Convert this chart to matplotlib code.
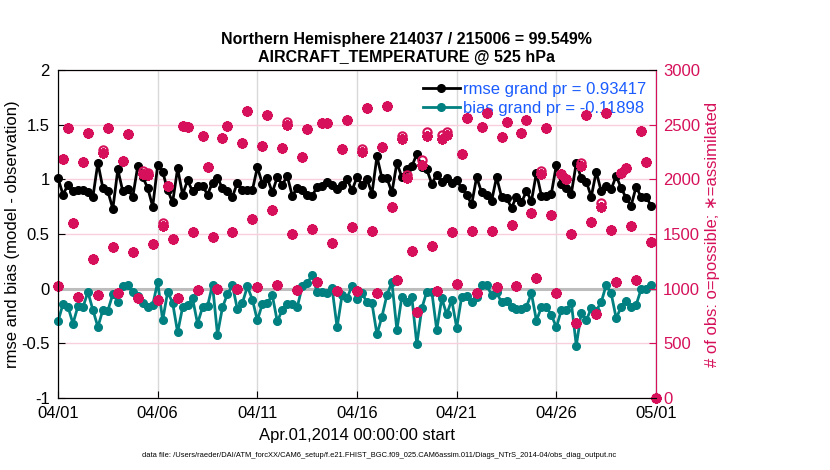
import matplotlib
matplotlib.use("Agg")
import matplotlib.pyplot as plt
import matplotlib.dates as mdates
import pandas as pd

plt.rcParams["font.family"] = ["Liberation Sans", "DejaVu Sans"]

# 6-hourly bins, Apr 01 2014 00Z onwards
start = "2014-04-01 00:00"
n_bins = 121

rmse = [1.01, 0.86, 0.95, 0.89, 0.90, 0.90, 0.88, 0.84, 1.15, 0.92,
        0.89, 0.73, 1.09, 0.89, 0.91, 0.84, 1.12, 1.02, 0.92, 0.75,
        1.13, 1.07, 0.90, 0.79, 1.10, 0.86, 0.99, 0.89, 0.94, 0.94,
        0.86, 0.97, 1.01, 0.92, 0.89, 0.84, 0.97, 0.90, 0.90, 0.90,
        1.11, 0.96, 1.01, 0.88, 1.02, 0.95, 1.03, 0.85, 0.92, 0.90,
        0.86, 0.85, 0.93, 0.94, 0.98, 0.95, 0.91, 0.95, 1.00, 0.90,
        1.02, 0.95, 1.00, 0.87, 1.21, 1.01, 1.01, 0.88, 1.15, 1.02,
        1.09, 1.12, 1.23, 1.11, 1.09, 0.96, 1.04, 0.98, 1.01, 0.97,
        0.99, 0.92, 0.86, 0.77, 1.02, 0.88, 0.86, 0.80, 1.02, 0.84,
        0.83, 0.74, 0.84, 0.79, 0.89, 0.80, 1.06, 0.85, 0.85, 0.87,
        1.13, 0.96, 0.92, 0.87, 1.15, 1.01, 0.98, 0.84, 1.07, 0.89,
        0.94, 0.91, 1.03, 0.92, 0.83, 0.76, 0.93, 0.84, 0.84, 0.76,
        None]

bias = [-0.30, -0.14, -0.165, -0.32, -0.16, -0.17, -0.03, -0.195, -0.35, -0.195,
        -0.20, -0.05, -0.12, 0.02, 0.03, -0.03, -0.07, -0.13, -0.165, -0.15,
        0.06, -0.29, -0.03, -0.13, -0.40, -0.17, -0.15, -0.09, -0.32, -0.17,
        -0.16, 0.035, -0.42, -0.17, -0.05, 0.03, -0.19, -0.13, 0.02, -0.10,
        -0.29, -0.14, -0.13, -0.06, -0.30, -0.195, -0.14, -0.14, -0.17, 0.02,
        0.05, 0.125, -0.034, -0.034, -0.043, 0.003, -0.354, -0.058, -0.088, 0.027,
        -0.097, -0.043, -0.125, -0.134, -0.418, -0.256, -0.058, 0.058, -0.378, -0.073,
        -0.119, -0.079, -0.509, -0.18, -0.027, -0.027, -0.378, -0.088, -0.235, -0.103,
        -0.357, -0.073, -0.064, -0.125, -0.073, 0.034, 0.034, -0.058, -0.034, -0.125,
        -0.11, -0.165, -0.189, -0.189, -0.165, -0.043, -0.293, -0.17, -0.17, -0.24,
        -0.354, -0.195, -0.195, -0.128, -0.52, -0.22, -0.29, -0.18, -0.20, -0.125,
        0.034, -0.043, -0.27, -0.17, -0.11, -0.165, -0.15, -0.006, -0.006, 0.034,
        None]

obs_possible = [1024, 2183, 2467, 1598, 921, 2156, 2427, 1268, 942, 2268,
                2467, 1378, 958, 2168, 2415, 1332, 912, 2076, 2055, 1409,
                896, 1598, 1939, 1452, 912, 2491, 2482, 1521, 988, 2399,
                2110, 1475, 994, 2378, 2491, 1515, 994, 2335, 2628, 1637,
                1012, 2305, 2588, 1720, 1033, 2290, 2527, 1500, 988, 2201,
                2460, 1542, 1058, 2512, 2518, 1420, 982, 2277, 2542, 1566,
                982, 2277, 2649, 1527, 957, 2298, 2670, 1749, 1079, 2399,
                2039, 1347, 790, 2176, 2435, 1393, 979, 2405, 2435, 1521,
                1043, 2231, 2557, 1530, 957, 2475, 2609, 1530, 1018, 2384,
                2527, 1582, 1024, 2420, 2542, 1688, 1095, 2076, 2472, 1673,
                957, 2045, 1999, 1499, 683, 2146, 2588, 1606, 768, 1780,
                2603, 1536, 1058, 2054, 2100, 1576, 1079, 2442, 2155, 1423,
                0]

obs_assim = [1024, 2183, 2467, 1598, 921, 2156, 2427, 1268, 942, 2240,
             2467, 1378, 958, 2168, 2415, 1332, 912, 2050, 2040, 1409,
             896, 1570, 1939, 1452, 912, 2491, 2482, 1521, 988, 2399,
             2110, 1475, 994, 2378, 2491, 1515, 994, 2335, 2628, 1637,
             1012, 2305, 2588, 1720, 1033, 2290, 2500, 1500, 988, 2201,
             2460, 1542, 1058, 2512, 2518, 1420, 982, 2277, 2542, 1566,
             982, 2250, 2649, 1527, 957, 2298, 2670, 1749, 1079, 2370,
             2010, 1347, 790, 2130, 2400, 1393, 979, 2370, 2405, 1521,
             1043, 2231, 2557, 1530, 957, 2475, 2609, 1530, 1018, 2384,
             2527, 1582, 1024, 2420, 2542, 1688, 1095, 2050, 2472, 1673,
             957, 2045, 1999, 1499, 683, 2120, 2588, 1606, 768, 1750,
             2603, 1536, 1058, 2054, 2100, 1576, 1079, 2442, 2155, 1423,
             0]

rmse_label = "rmse grand pr = 0.93417"
bias_label = "bias grand pr = -0.11898"
title_lines = ["Northern Hemisphere 214037 / 215006 = 99.549%",
               "AIRCRAFT_TEMPERATURE @ 525 hPa"]
data_file = ("data file: /Users/raeder/DAI/ATM_forcXX/CAM6_setup/"
             "f.e21.FHIST_BGC.f09_025.CAM6assim.011/Diags_NTrS_2014-04/obs_diag_output.nc")

times = pd.date_range(start, periods=n_bins, freq="6h")
rmse_s = pd.Series(rmse, index=times, dtype=float)
bias_s = pd.Series(bias, index=times, dtype=float)

c_obs = "#D6105A"
c_bias = "#008080"
c_leg = "#1A5CFF"

fig = plt.figure(figsize=(8.3, 4.7), dpi=100)
ax = fig.add_axes([0.0699, 0.1532, 0.7205, 0.6979])

ax.xaxis.grid(True, color="#D9D9D9", lw=1)
ax.yaxis.grid(True, color="#F7CFDD", lw=1)
ax.set_axisbelow(True)
ax.axhline(0, color="#BDBDBD", lw=2.2, zorder=1.5)

ax.plot(rmse_s.index, rmse_s.values, "-o", color="black", lw=2, ms=5.5,
        label=rmse_label, clip_on=False, zorder=3)
ax.plot(bias_s.index, bias_s.values, "-o", color=c_bias, lw=2, ms=5.5,
        label=bias_label, clip_on=False, zorder=3)

ax.set_ylim(-1, 2)
ax.set_yticks([-1, -0.5, 0, 0.5, 1, 1.5, 2])
ax.set_yticklabels(["-1", "-0.5", "0", "0.5", "1", "1.5", "2"])
ax.set_xlim(pd.Timestamp("2014-04-01"), pd.Timestamp("2014-05-01"))
ax.set_xticks(pd.date_range("2014-04-01", "2014-05-01", freq="5D"))
ax.xaxis.set_major_formatter(mdates.DateFormatter("%m/%d"))
ax.tick_params(direction="in", length=5, labelsize=12, right=False, top=False)
ax.tick_params(axis="y", pad=6)
ax.tick_params(axis="x", pad=6)
ax.set_ylabel("rmse and bias (model - observation)", fontsize=12)
ax.yaxis.set_label_coords(-0.064, 0.5)
ax.set_xlabel("Apr.01,2014 00:00:00 start", fontsize=12, labelpad=5)

leg = ax.legend(loc="upper right", frameon=False, fontsize=12, handlelength=2.2,
                handletextpad=0.2, labelspacing=0.25, borderaxespad=0.3,
                bbox_to_anchor=(1.003, 1.0))
for t in leg.get_texts():
    t.set_color(c_leg)

ax2 = ax.twinx()
ax2.plot(times, obs_possible, "o", mfc="none", mec=c_obs, mew=1.5, ms=6,
         ls="none", clip_on=False)
ax2.plot(times, obs_assim, ls="none", marker=(8, 2, 0), color=c_obs,
         mew=2.0, ms=7.5, clip_on=False)
ax2.set_ylim(0, 3000)
ax2.set_yticks(range(0, 3001, 500))
ax2.tick_params(direction="in", length=5, labelsize=12, colors=c_obs, pad=5)
ax2.spines["right"].set_color(c_obs)
ax2.set_ylabel("# of obs: o=possible; \u2217=assimilated", color=c_obs, fontsize=12)
ax2.yaxis.set_label_coords(1.082, 0.5)

fig.text(0.49, 0.862, "\n".join(title_lines), ha="center", va="bottom",
         fontsize=11.5, fontweight="bold", linespacing=1.25)
fig.text(0.457, 0.0315, data_file, ha="center", va="center", fontsize=5.4)

fig.savefig("out.png", dpi=100)
